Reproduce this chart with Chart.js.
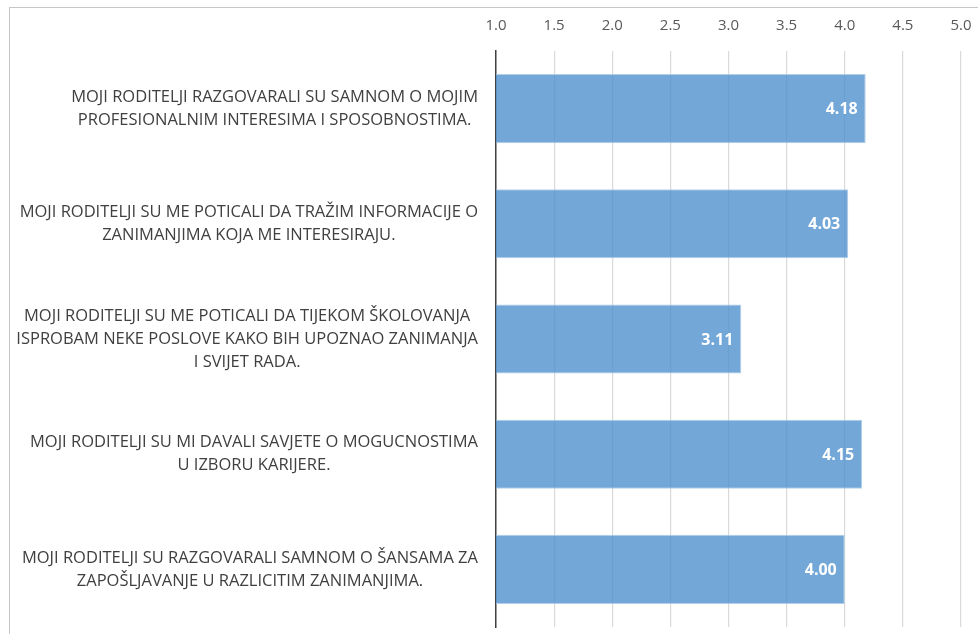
<!DOCTYPE html>
<html>
<head>
<meta charset="utf-8">
<script src="https://cdn.jsdelivr.net/npm/chart.js"></script>
<style>
  html, body { margin: 0; padding: 0; background: #fff; }
  #wrap { position: relative; width: 978px; height: 634px; overflow: hidden; }
  #frame {
    position: absolute; left: 9px; top: 7px; width: 1000px; height: 700px;
    border-left: 1.5px solid #c6c6c6; border-top: 1.5px solid #c6c6c6;
  }
  #chart { position: absolute; left: 0; top: 0; }
</style>
</head>
<body>
<div id="wrap">
  <div id="frame"></div>
  <canvas id="chart" width="978" height="634"></canvas>
</div>
<script>
const categories = [
  ['MOJI RODITELJI RAZGOVARALI SU SAMNOM O MOJIM', 'PROFESIONALNIM INTERESIMA I SPOSOBNOSTIMA.'],
  ['MOJI RODITELJI SU ME POTICALI DA TRAŽIM INFORMACIJE O', 'ZANIMANJIMA KOJA ME INTERESIRAJU.'],
  ['MOJI RODITELJI SU ME POTICALI DA TIJEKOM ŠKOLOVANJA', 'ISPROBAM NEKE POSLOVE KAKO BIH UPOZNAO ZANIMANJA', 'I SVIJET RADA.'],
  ['MOJI RODITELJI SU MI DAVALI SAVJETE O MOGUCNOSTIMA', 'U IZBORU KARIJERE.'],
  ['MOJI RODITELJI SU RAZGOVARALI SAMNOM O ŠANSAMA ZA', 'ZAPOŠLJAVANJE U RAZLICITIM ZANIMANJIMA.'],
];
const means = [4.18, 4.03, 3.11, 4.15, 4.00];

const axisMin = 1;
const axisMax = 5;
const axisStep = 0.5;

const FONT = '"Open Sans", "Noto Sans", sans-serif';

// category labels: each block right-aligned at the axis, lines centred inside it
const categoryLabels = {
  id: 'categoryLabels',
  afterDraw(chart) {
    const ctx = chart.ctx;
    const y = chart.scales.y;
    const right = chart.chartArea.left - 18;
    const lh = 23;
    ctx.save();
    ctx.font = '16.5px ' + FONT;
    ctx.fillStyle = '#404040';
    ctx.textAlign = 'center';
    ctx.textBaseline = 'middle';
    categories.forEach((lines, i) => {
      const w = Math.max(...lines.map(l => ctx.measureText(l).width));
      const cx = right - w / 2;
      const cy = y.getPixelForValue(i);
      const top = cy - (lines.length - 1) * lh / 2;
      lines.forEach((l, j) => ctx.fillText(l, cx, top + j * lh));
    });
    ctx.restore();
  }
};

// values written inside the end of each bar
const barValues = {
  id: 'barValues',
  afterDatasetsDraw(chart) {
    const ctx = chart.ctx;
    const meta = chart.getDatasetMeta(0);
    ctx.save();
    ctx.font = 'bold 16px ' + FONT;
    ctx.fillStyle = '#ffffff';
    ctx.textAlign = 'right';
    ctx.textBaseline = 'middle';
    meta.data.forEach((bar, i) => {
      ctx.fillText(means[i].toFixed(2), bar.x - 8, bar.y + 1);
    });
    ctx.restore();
  }
};

new Chart(document.getElementById('chart').getContext('2d'), {
  type: 'bar',
  data: {
    labels: categories,
    datasets: [{
      data: means,
      backgroundColor: 'rgba(79,145,206,0.8)',
      borderColor: 'rgba(170,202,232,0.9)',
      borderWidth: 1,
      categoryPercentage: 1,
      barPercentage: 0.6,
    }]
  },
  options: {
    indexAxis: 'y',
    responsive: false,
    animation: false,
    layout: { padding: { left: 0, right: 17, top: 0, bottom: 7 } },
    plugins: {
      legend: { display: false },
      tooltip: { enabled: false },
      title: { display: false },
    },
    scales: {
      x: {
        position: 'top',
        min: axisMin,
        max: axisMax,
        ticks: {
          stepSize: axisStep,
          padding: 16,
          color: '#595959',
          font: { family: FONT, size: 15 },
          callback: v => Number(v).toFixed(1),
        },
        grid: { color: '#d9d9d9', lineWidth: 1.2, drawTicks: false },
        border: { display: false },
        afterFit: s => { s.height = 51; s.paddingLeft = 0; s.paddingRight = 0; },
      },
      y: {
        ticks: { display: false },
        grid: { display: false },
        border: { display: true, color: '#404040', width: 1.5 },
        afterFit: s => { s.width = 496; },
      }
    }
  },
  plugins: [categoryLabels, barValues]
});
</script>
</body>
</html>
